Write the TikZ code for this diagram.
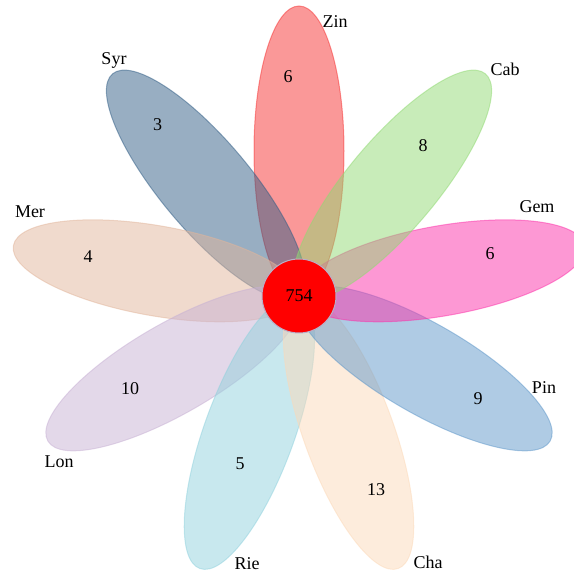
\documentclass[tikz,border=0pt]{standalone}
\usepackage{fontspec}
\setmainfont{Liberation Serif}
\definecolor{cZin}{RGB}{245,49,49}
\definecolor{cSyr}{RGB}{49,93,133}
\definecolor{cMer}{RGB}{225,181,155}
\definecolor{cLon}{RGB}{199,177,211}
\definecolor{cRie}{RGB}{145,209,221}
\definecolor{cCha}{RGB}{251,217,185}
\definecolor{cPin}{RGB}{95,151,201}
\definecolor{cGem}{RGB}{251,49,169}
\definecolor{cCab}{RGB}{145,217,115}
\definecolor{coreedge}{RGB}{185,175,200}
\begin{document}
\begin{tikzpicture}[x=1pt,y=1pt,
  petal/.style={fill=#1, draw=#1, fill opacity=0.5, draw opacity=0.5, line width=1pt},
  lab/.style={font=\fontsize{18}{20}\selectfont, inner sep=0pt, text=black}]
\useasboundingbox (0,0) rectangle (574,573);
\clip (0,0) rectangle (574,573);
\coordinate (C) at (299,277);
\foreach \ang/\col in {90/cZin,130/cSyr,170/cMer,210/cLon,250/cRie,290/cCha,330/cPin,370/cGem,410/cCab} {
  \begin{scope}[shift={(C)}, rotate=\ang]
    \draw[petal=\col] (145,0) ellipse [x radius=145pt, y radius=45pt];
  \end{scope}
}
\node[circle, fill=red, draw=coreedge, line width=1pt, minimum size=74pt, lab] (core) at (C) {754};
% set labels
\node[lab] (lZin) at (335,551) {Zin};
\node[lab] (lSyr) at (114,513) {Syr};
\node[lab] (lCab) at (505,504) {Cab};
\node[lab] (lMer) at (30,361) {Mer};
\node[lab] (lGem) at (537,366) {Gem};
\node[lab] (lPin) at (544,185) {Pin};
\node[lab] (lLon) at (59,111) {Lon};
\node[lab] (lRie) at (247,9) {Rie};
\node[lab] (lCha) at (428,11) {Cha};
% counts
\node[lab] (nZin) at (288,496) {6};
\node[lab] (nSyr) at (157.5,448) {3};
\node[lab] (nCab) at (423,427) {8};
\node[lab] (nMer) at (88,316) {4};
\node[lab] (nGem) at (490,319) {6};
\node[lab] (nPin) at (478,174) {9};
\node[lab] (nLon) at (130,184) {10};
\node[lab] (nRie) at (240,109) {5};
\node[lab] (nCha) at (376,83) {13};
\end{tikzpicture}
\end{document}
